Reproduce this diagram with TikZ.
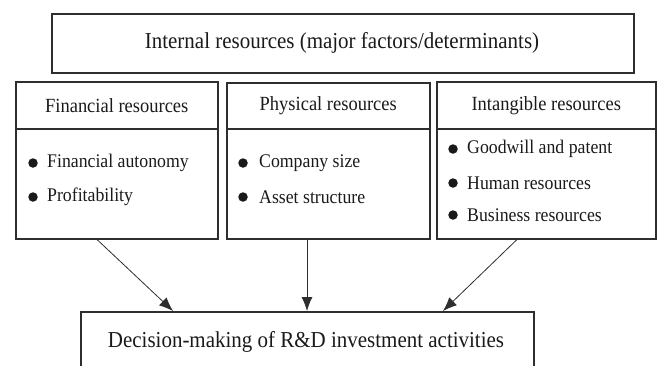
\documentclass[tikz,border=0pt]{standalone}
\usepackage{fontspec}
\setmainfont[FakeStretch=0.92]{Liberation Serif}
\usetikzlibrary{arrows.meta}
\definecolor{ink}{HTML}{1A1A1A}
\definecolor{edge}{HTML}{2E2E2E}
\tikzset{
  box/.style={draw=edge, line width=1.5pt, rectangle, inner sep=0pt, anchor=north west},
  bigtxt/.style={font=\fontsize{22.8}{26}\selectfont, text=ink},
  headtxt/.style={font=\fontsize{20.1}{23}\selectfont, text=ink},
  itemtxt/.style={font=\fontsize{19.3}{22}\selectfont, text=ink, anchor=west, inner sep=0pt},
  dot/.style={circle, fill=ink, inner sep=0pt, minimum size=9.5pt},
  arr/.style={draw=edge, line width=0.8pt, -{Latex[length=14pt,width=11pt]}}
}
\begin{document}
\begin{tikzpicture}[x=1pt,y=-1pt]
\useasboundingbox (0,0) rectangle (660,365);
% top box
\node[box, minimum width=582pt, minimum height=59pt] (top) at (51,13) {};
\node[bigtxt] (toptxt) at (342,43) {Internal resources (major factors/determinants)};
% headers
\node[box, minimum width=202pt, minimum height=47pt] (finh) at (15,81) {};
\node[box, minimum width=203pt, minimum height=46pt] (phyh) at (226,82) {};
\node[box, minimum width=219pt, minimum height=47pt] (inth) at (436,81) {};
\node[headtxt] (finht) at (finh.center) {Financial resources};
\node[headtxt] (phyht) at (phyh.center) {Physical resources};
\node[headtxt] (intht) at (inth.center) {Intangible resources};
% bodies
\node[box, minimum width=202pt, minimum height=110pt] (finb) at (15,128) {};
\node[box, minimum width=203pt, minimum height=110pt] (phyb) at (226,128) {};
\node[box, minimum width=219pt, minimum height=110pt] (intb) at (436,128) {};
% items
\node[dot] (d1) at (33,163) {};
\node[itemtxt] (t1) at (47,163) {Financial autonomy};
\node[dot] (d2) at (33,197) {};
\node[itemtxt] (t2) at (47,197) {Profitability};
\node[dot] (d3) at (243,163) {};
\node[itemtxt] (t3) at (259,163) {Company size};
\node[dot] (d4) at (243,197) {};
\node[itemtxt] (t4) at (259,197) {Asset structure};
\node[dot] (d5) at (453,149) {};
\node[itemtxt] (t5) at (467,149) {Goodwill and patent};
\node[dot] (d6) at (453,183) {};
\node[itemtxt] (t6) at (467,183) {Human resources};
\node[dot] (d7) at (453,215) {};
\node[itemtxt] (t7) at (467,215) {Business resources};
% bottom box
\node[box, minimum width=453pt, minimum height=70pt] (bot) at (80,311) {};
\node[bigtxt] (bottxt) at (306,342) {Decision-making of R\&D investment activities};
% arrows
\draw[arr] ([xshift=82pt]finb.south west) -- ([xshift=93pt]bot.north west);
\draw[arr] ([xshift=81pt]phyb.south west) -- ([xshift=227pt]bot.north west);
\draw[arr] ([xshift=81pt]intb.south west) -- ([xshift=363pt]bot.north west);
\end{tikzpicture}
\end{document}
